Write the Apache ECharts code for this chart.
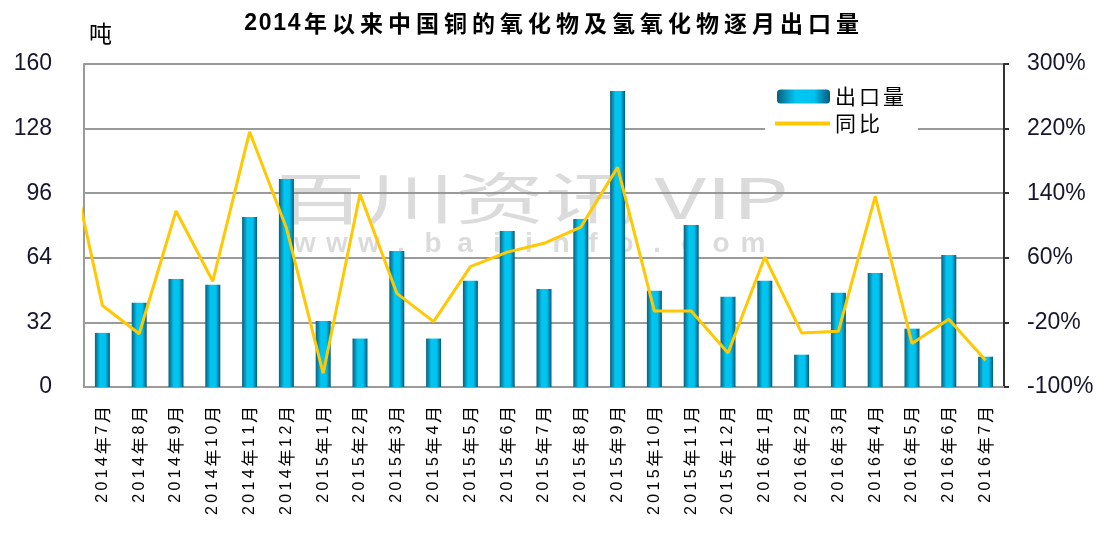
<!DOCTYPE html>
<html>
<head>
<meta charset="utf-8">
<script src="https://cdn.jsdelivr.net/npm/echarts@6/dist/echarts.min.js"></script>
<style>
    html, body { margin: 0; padding: 0; background: #fff; }
    #chart { width: 1105px; height: 538px; }
</style>
</head>
<body>
<div id="chart"></div>
<script>
    // 月份
    var categories = ['2014年7月', '2014年8月', '2014年9月', '2014年10月', '2014年11月', '2014年12月',
        '2015年1月', '2015年2月', '2015年3月', '2015年4月', '2015年5月', '2015年6月', '2015年7月',
        '2015年8月', '2015年9月', '2015年10月', '2015年11月', '2015年12月',
        '2016年1月', '2016年2月', '2016年3月', '2016年4月', '2016年5月', '2016年6月', '2016年7月'];
    // 出口量 (吨)
    var exportVolume = [26.8, 41.7, 53.5, 50.6, 84.2, 103, 32.7, 24, 67.4, 24, 52.6, 77.3, 48.6,
        83.2, 146.6, 47.7, 80.3, 44.7, 52.6, 16, 46.7, 56.5, 28.9, 65.4, 15];
    // 同比 (%)
    var yoyChange = [1, -34, 118, 31, 216, 97, -83, 139, 16, -19, 49, 67, 78,
        98, 172, -6, -6, -58, 61, -33, -31, 136, -46, -16, -67];
    // 2014年6月同比, 图中被左边框截断
    var yoyPrevMonth = 209;

    var yoyData = [[-0.5, yoyPrevMonth]];
    yoyChange.forEach(function (v, i) {
        yoyData.push([i + 0.5, v]);
    });

    var latinFont = '"Liberation Sans", Arial, "Noto Sans CJK SC", sans-serif';
    var cjkFont = '"Noto Sans CJK SC", "Liberation Sans", sans-serif';

    // 原图文字字距较宽, 用 rich 给每个字固定宽度
    function spaced(str, digitStyle, otherStyle) {
        return str.split('').map(function (ch) {
            return '{' + (/[0-9]/.test(ch) ? digitStyle : otherStyle) + '|' + ch + '}';
        }).join('');
    }

    var barColor = new echarts.graphic.LinearGradient(0, 0, 1, 0, [
        { offset: 0, color: '#0b5f7c' },
        { offset: 0.35, color: '#00c6f2' },
        { offset: 0.7, color: '#00c2ee' },
        { offset: 1, color: '#08587a' }
    ]);

    var legendRich = {
        c: { width: 24, fontSize: 21, fontFamily: cjkFont, color: '#000' }
    };

    var option = {
        animation: false,
        backgroundColor: '#fff',
        title: {
            text: spaced('2014年以来中国铜的氧化物及氢氧化物逐月出口量', 'd', 'c'),
            left: 'center',
            top: 7,
            textStyle: {
                rich: {
                    d: { width: 14.5, align: 'center', fontSize: 23, fontWeight: 'bold', fontFamily: latinFont, color: '#000' },
                    c: { width: 28, align: 'center', fontSize: 23, fontWeight: 'bold', fontFamily: cjkFont, color: '#000' }
                }
            }
        },
        legend: [
            {
                left: 765,
                top: 83,
                itemWidth: 53,
                itemHeight: 14,
                padding: [3, 14, 2, 12],
                backgroundColor: '#fff',
                formatter: function (name) { return spaced(name, 'c', 'c'); },
                textStyle: { rich: legendRich },
                data: [{ name: '出口量' }]
            },
            {
                left: 765,
                top: 110,
                itemWidth: 55,
                itemHeight: 4,
                padding: [3, 38, 6, 10],
                backgroundColor: '#fff',
                formatter: function (name) { return spaced(name, 'c', 'c'); },
                textStyle: { rich: legendRich },
                data: [{ name: '同比', icon: 'rect' }]
            }
        ],
        graphic: [
            {
                type: 'text', x: 276, y: 170, scaleX: 1.6, z: 1, silent: true,
                style: { text: '百川资讯 VIP', fontSize: 56, fontFamily: cjkFont, fill: 'rgba(150,150,150,0.34)' }
            },
            {
                type: 'text', x: 289, y: 230, z: 1, silent: true,
                style: {
                    text: spaced('www.baiinfo.com', 'w', 'w'),
                    rich: {
                        w: { width: 32, align: 'center', fontSize: 28, fontWeight: 'bold', fontFamily: latinFont, fill: 'rgba(150,150,150,0.34)' }
                    }
                }
            },
            {
                type: 'text', x: 89, y: 22,
                style: { text: '吨', fontSize: 23, fontFamily: cjkFont, fill: '#000' }
            }
        ],
        grid: {
            left: 84,
            right: 101,
            top: 64,
            bottom: 151
        },
        xAxis: [
            {
                type: 'category',
                data: categories,
                boundaryGap: true,
                axisLine: { lineStyle: { color: '#9a9a9a', width: 2 } },
                axisTick: { show: false },
                axisLabel: {
                    interval: 0,
                    rotate: 90,
                    margin: 18,
                    formatter: function (value) { return spaced(value, 'd', 'c'); },
                    rich: {
                        d: { width: 12.3, align: 'center', fontSize: 16, fontFamily: latinFont, color: '#000' },
                        c: { width: 19, align: 'center', fontSize: 17, fontFamily: cjkFont, color: '#000' }
                    }
                }
            },
            {
                type: 'value',
                min: 0,
                max: 25,
                show: false
            }
        ],
        yAxis: [
            {
                type: 'value',
                min: 0,
                max: 160,
                interval: 32,
                axisLine: { show: true, lineStyle: { color: '#9a9a9a', width: 2 } },
                axisTick: { show: false },
                splitLine: { lineStyle: { color: '#9a9a9a', width: 2 } },
                axisLabel: { margin: 32, fontSize: 23, fontFamily: latinFont, color: '#15152e' }
            },
            {
                type: 'value',
                min: -100,
                max: 300,
                interval: 80,
                position: 'right',
                axisLine: { show: true, lineStyle: { color: '#333', width: 2 } },
                axisTick: { show: true, inside: false, length: 5, lineStyle: { color: '#333', width: 2 } },
                splitLine: { show: false },
                axisLabel: { margin: 23, fontSize: 23, fontFamily: latinFont, color: '#15152e', formatter: '{value}%' }
            }
        ],
        series: [
            {
                name: '出口量',
                type: 'bar',
                barWidth: 15,
                itemStyle: { color: barColor },
                data: exportVolume
            },
            {
                name: '同比',
                type: 'line',
                xAxisIndex: 1,
                yAxisIndex: 1,
                symbol: 'none',
                clip: true,
                lineStyle: { color: '#ffc800', width: 3 },
                itemStyle: { color: '#ffc800' },
                data: yoyData
            }
        ]
    };

    var chart = echarts.init(document.getElementById('chart'));
    chart.setOption(option);
</script>
</body>
</html>
